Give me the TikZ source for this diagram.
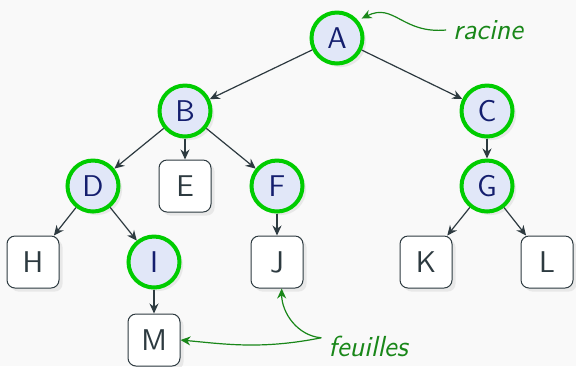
\documentclass[tikz,border=0pt]{standalone}
\usepackage{fontspec}
\usepackage{tikz}
\usetikzlibrary{arrows.meta,shadows}

\definecolor{bgcol}{RGB}{249,249,249}
\definecolor{nodeline}{RGB}{0,204,0}
\definecolor{nodefill}{RGB}{225,231,248}
\definecolor{nodetext}{RGB}{20,30,110}
\definecolor{edgecol}{RGB}{45,58,64}
\definecolor{notecol}{RGB}{25,135,25}

\begin{document}
\begin{tikzpicture}[x=1pt, y=-1pt, font=\sffamily\fontsize{15}{17}\selectfont,
  inner/.style={circle, draw=nodeline, line width=2pt, fill=nodefill, text=nodetext,
    minimum size=25.5pt, inner sep=0pt,
    drop shadow={shadow xshift=1.8pt, shadow yshift=-1.8pt, fill=black!15}},
  leaf/.style={rectangle, rounded corners=4pt, draw=edgecol, line width=0.5pt, fill=white,
    text=edgecol, minimum size=26pt, inner sep=0pt,
    drop shadow={shadow xshift=1.8pt, shadow yshift=-1.8pt, fill=black!15}},
  edge/.style={-{Stealth[length=5pt,width=4.5pt]}, draw=edgecol, line width=0.6pt},
  note/.style={text=notecol, font=\sffamily\itshape\fontsize{14.5}{17}\selectfont},
  pointer/.style={-{Stealth[length=5pt,width=4.5pt]}, draw=notecol, line width=0.6pt}]
\fill[bgcol] (0,0) rectangle (288,183);

% Internal nodes
\node[inner] (A) at (168.5,19) {A};
\node[inner] (B) at (92.5,55.5) {B};
\node[inner] (C) at (243.5,55.5) {C};
\node[inner] (D) at (46.5,93) {D};
\node[inner] (F) at (138.5,93) {F};
\node[inner] (G) at (243.5,93) {G};
\node[inner] (I) at (77,131) {I};

% Leaves
\node[leaf] (E) at (92.5,93) {E};
\node[leaf] (H) at (16.5,131) {H};
\node[leaf] (J) at (138.5,131) {J};
\node[leaf] (K) at (213,131) {K};
\node[leaf] (L) at (273.5,131) {L};
\node[leaf] (M) at (77,170) {M};

% Edges
\draw[edge] (A) -- (B);
\draw[edge] (A) -- (C);
\draw[edge] (B) -- (D);
\draw[edge] (B) -- (E);
\draw[edge] (B) -- (F);
\draw[edge] (C) -- (G);
\draw[edge] (D) -- (H);
\draw[edge] (D) -- (I);
\draw[edge] (F) -- (J);
\draw[edge] (G) -- (K);
\draw[edge] (G) -- (L);
\draw[edge] (I) -- (M);

% Annotations
\node[note] (root) at (244,15) {racine};
\node[note] (leaves) at (184,173) {feuilles};
\draw[pointer, shorten >=2pt] (root.west) .. controls +(-22,2) and +(18,-9) .. (A.40);
\draw[pointer] (leaves.170) .. controls +(-30,6) and +(22,2) .. (M.east);
\draw[pointer] (leaves.170) .. controls +(-12,-1) and +(0,12) .. (J.280);
\end{tikzpicture}
\end{document}
